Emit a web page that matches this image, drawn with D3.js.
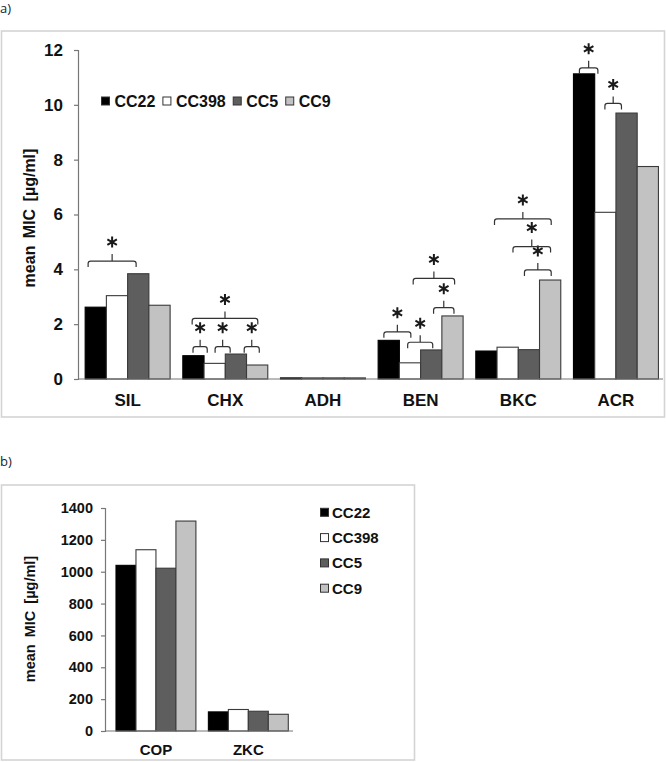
<!DOCTYPE html>
<html><head><meta charset="utf-8">
<script src="https://cdn.jsdelivr.net/npm/d3@7"></script>
<style>
html,body{margin:0;padding:0;background:#fff;}
svg{display:block;font-family:Arial,"Liberation Sans",sans-serif;}
</style></head>
<body>
<svg id="chart" width="666" height="762"></svg>
<script>
// ---- data ----
const series = ["CC22", "CC398", "CC5", "CC9"];
const seriesColors = ["#000000", "#ffffff", "#5e5e5e", "#c2c2c2"];

const catsA = ["SIL", "CHX", "ADH", "BEN", "BKC", "ACR"];
const cc22A  = [2.62, 0.85, 0.04, 1.41, 1.02, 11.13];
const cc398A = [3.04, 0.57, 0.04, 0.59, 1.16, 6.08];
const cc5A   = [3.84, 0.91, 0.04, 1.06, 1.07, 9.70];
const cc9A   = [2.69, 0.51, 0.04, 2.30, 3.61, 7.75];
const ticksA = [0, 2, 4, 6, 8, 10, 12];

const catsB = ["COP", "ZKC"];
const cc22B  = [1040, 120];
const cc398B = [1138, 135];
const cc5B   = [1022, 124];
const cc9B   = [1318, 105];
const ticksB = [0, 200, 400, 600, 800, 1000, 1200, 1400];

// significance brackets: category, start / end (in bar-slot units within the group), level (data units)
const sigCat  = ["SIL","CHX","CHX","CHX","CHX","BEN","BEN","BEN","BEN","BKC","BKC","BKC","ACR","ACR"];
const sigFrom = [0.14, 0.44, 0.48, 1.52, 2.89, 0.27, 1.39, 2.61, 1.65, 2.29, 1.75, 0.88, 0.28, 1.48];
const sigTo   = [2.40, 3.53, 1.15, 2.23, 3.60, 1.54, 2.57, 3.57, 3.60, 3.55, 3.52, 3.55, 1.15, 2.26];
const sigLvl  = [4.30, 2.21, 1.18, 1.18, 1.18, 1.72, 1.34, 2.60, 3.67, 3.98, 4.83, 5.84, 11.35, 10.05];

const svg = d3.select("#chart");
const FONT = 'Arial,"Liberation Sans",sans-serif';

function panel(opts) {
  const {cats, vals, ticks, ymax, x0, x1, y0, y1, align, pI, pO, tickFont, catFont, catBase, labelX, labelY, labelFont, box} = opts;
  svg.append("rect").attr("x", box[0]).attr("y", box[1]).attr("width", box[2]).attr("height", box[3])
    .attr("fill", "none").attr("stroke", "#d4d4d4").attr("stroke-width", 1.6);

  const y = d3.scaleLinear().domain([0, ymax]).range([y0, y1]);
  const x = d3.scaleBand().domain(cats).range([x0, x1]).paddingInner(pI).paddingOuter(pO).align(align);
  const xi = d3.scaleBand().domain(d3.range(series.length)).range([0, x.bandwidth()]);

  const g = svg.append("g");
  const ya = g.append("g").attr("transform", `translate(${x0},0)`)
    .call(d3.axisLeft(y).tickValues(ticks).tickSize(4).tickPadding(opts.tickPad).tickFormat(d3.format("d")));
  ya.select(".domain").attr("stroke", "#777").attr("stroke-width", 1.2);
  ya.selectAll(".tick line").attr("stroke", "#777").attr("stroke-width", 1.2);
  ya.selectAll(".tick text").attr("font-family", FONT).attr("font-size", tickFont).attr("font-weight", "bold").attr("fill", "#111");

  cats.forEach((c, ci) => {
    series.forEach((s, si) => {
      const v = vals[si][ci];
      g.append("rect")
        .attr("x", x(c) + xi(si)).attr("y", y(v))
        .attr("width", xi.bandwidth()).attr("height", Math.max(0.8, y(0) - y(v)))
        .attr("fill", seriesColors[si])
        .attr("stroke", si === 0 ? "#000" : "#3a3a3a").attr("stroke-width", 1.1);
    });
  });

  g.append("line").attr("x1", x0).attr("x2", x1).attr("y1", y0).attr("y2", y0)
    .attr("stroke", "#777").attr("stroke-width", 1.2);
  cats.forEach(c => {
    g.append("text").attr("x", x(c) + x.bandwidth() / 2).attr("y", catBase)
      .attr("text-anchor", "middle").attr("font-family", FONT).attr("font-size", catFont)
      .attr("font-weight", "bold").attr("fill", "#111").text(c);
  });
  g.append("text").attr("transform", `translate(${labelX},${labelY}) rotate(-90)`)
    .attr("text-anchor", "middle").attr("dominant-baseline", "middle")
    .attr("font-family", FONT).attr("font-size", labelFont).attr("font-weight", "bold")
    .attr("word-spacing", 3).attr("fill", "#111").text("mean MIC [µg/ml]");
  return {x, xi, y, g};
}

// ---- panel a ----
svg.append("text").attr("x", 0).attr("y", 13).attr("font-family", '"Open Sans","Noto Sans",sans-serif')
  .attr("font-size", 13).attr("fill", "#222").text("a)");

const A = panel({
  cats: catsA, vals: [cc22A, cc398A, cc5A, cc9A], ticks: ticksA, ymax: 12,
  x0: 78, x1: 663, y0: 379, y1: 50, align: 0.61, pI: 0.13, pO: 0.06,
  tickFont: 17, tickPad: 11, catFont: 17, catBase: 406, labelX: 31, labelY: 218, labelFont: 16,
  box: [1.5, 31, 663, 386]
});

const star = d3.symbol().type(d3.symbolAsterisk).size(85);
sigCat.forEach((c, i) => {
  const bw = A.xi.bandwidth();
  const xa = A.x(c) + sigFrom[i] * bw;
  const xb = A.x(c) + sigTo[i] * bw;
  const yy = A.y(sigLvl[i]);
  const xm = (xa + xb) / 2;
  const r = 2.5;
  const p = `M${xa},${yy + 6}L${xa},${yy + r}Q${xa},${yy} ${xa + r},${yy}L${xb - r},${yy}Q${xb},${yy} ${xb},${yy + r}L${xb},${yy + 6}M${xm},${yy}L${xm},${yy - 7}`;
  A.g.append("path").attr("d", p).attr("fill", "none").attr("stroke", "#333").attr("stroke-width", 1.2);
  A.g.append("path").attr("d", star()).attr("transform", `translate(${xm},${yy - 19})`)
    .attr("fill", "none").attr("stroke", "#1a1a1a").attr("stroke-width", 2);
});

{
  let lx = 101.5;
  const ly = 101;
  series.forEach((s, si) => {
    A.g.append("rect").attr("x", lx).attr("y", ly - 4).attr("width", 8).attr("height", 8)
      .attr("fill", seriesColors[si]).attr("stroke", "#333").attr("stroke-width", 1);
    const t = A.g.append("text").attr("x", lx + 13).attr("y", ly + 6).attr("font-family", FONT)
      .attr("font-size", 16).attr("font-weight", "bold").attr("fill", "#111").text(s);
    lx += 13 + t.node().getComputedTextLength() + 7.5;
  });
}

// ---- panel b ----
svg.append("text").attr("x", 0).attr("y", 466).attr("font-family", '"Open Sans","Noto Sans",sans-serif')
  .attr("font-size", 13).attr("fill", "#222").text("b)");

const B = panel({
  cats: catsB, vals: [cc22B, cc398B, cc5B, cc9B], ticks: ticksB, ymax: 1400,
  x0: 105, x1: 293, y0: 731, y1: 508, align: 0.7, pI: 0.135, pO: 0.085,
  tickFont: 14.5, tickPad: 8, catFont: 15, catBase: 755, labelX: 31, labelY: 619, labelFont: 14.5,
  box: [1.5, 485, 413, 275]
});

series.forEach((s, si) => {
  const ly = 512.3 + si * 25.3;
  B.g.append("rect").attr("x", 320.5).attr("y", ly - 4).attr("width", 8).attr("height", 8)
    .attr("fill", seriesColors[si]).attr("stroke", "#333").attr("stroke-width", 1);
  B.g.append("text").attr("x", 332).attr("y", ly + 5.5).attr("font-family", FONT)
    .attr("font-size", 15).attr("font-weight", "bold").attr("fill", "#111").text(s);
});
</script>
</body></html>
